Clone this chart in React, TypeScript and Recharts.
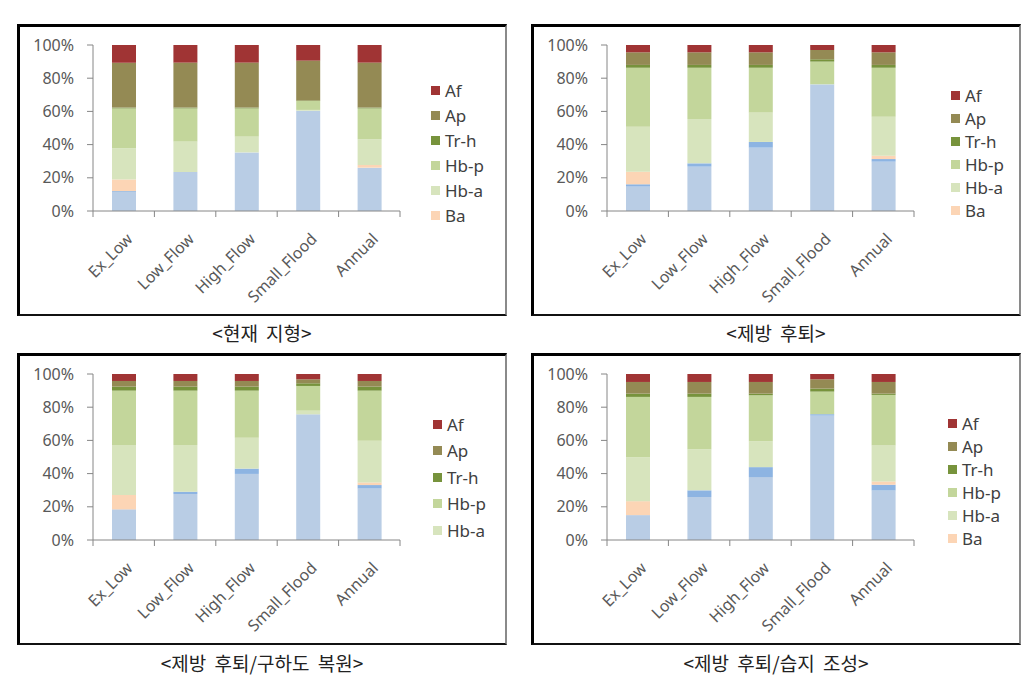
import React from 'react';
import { BarChart, Bar, XAxis, YAxis } from 'recharts';

const categories = ['Ex_Low', 'Low_Flow', 'High_Flow', 'Small_Flood', 'Annual'];
const yTicks = [0, 20, 40, 60, 80, 100];

// Panel 1: 현재 지형
const p1W = [11.5, 23.5, 35.3, 60.4, 26.1];
const p1B = [0.5, 0, 0, 0, 0];
const p1Ba = [7, 0, 0, 0, 1.6];
const p1Hba = [18.8, 18.3, 9.5, 0.5, 15.5];
const p1Hbp = [24, 20, 17, 5.4, 18.6];
const p1Trh = [0.5, 0.5, 0.5, 0.3, 0.5];
const p1Ap = [27, 27.1, 27.1, 24, 27.1];
const p1Af = [10.7, 10.6, 10.6, 9.4, 10.6];

// Panel 2: 제방 후퇴
const p2W = [14.7, 26.7, 38.2, 75.9, 29.7];
const p2B = [1.4, 2, 3.4, 0.3, 1.6];
const p2Ba = [7.6, 0, 0, 0, 2];
const p2Hba = [27.1, 26.7, 17.8, 0.3, 23.5];
const p2Hbp = [35.5, 30.9, 26.9, 13.5, 29.5];
const p2Trh = [1.7, 1.7, 1.7, 1.4, 1.7];
const p2Ap = [7.6, 7.6, 7.6, 5.6, 7.6];
const p2Af = [4.4, 4.4, 4.4, 3, 4.4];

// Panel 3: 제방 후퇴/구하도 복원
const p3W = [18.1, 27.7, 39.8, 75.7, 31.1];
const p3B = [0.3, 1.4, 3.2, 0, 2];
const p3Ba = [8.7, 0, 0, 0, 1.6];
const p3Hba = [30.1, 28.1, 18.6, 2.2, 25.1];
const p3Hbp = [32.8, 32.8, 28.4, 14.9, 30.2];
const p3Trh = [2.4, 2.4, 2.4, 1.6, 2.4];
const p3Ap = [3.4, 3.4, 3.4, 2.4, 3.4];
const p3Af = [4.2, 4.2, 4.2, 3.2, 4.2];

// Panel 4: 제방 후퇴/습지 조성
const p4W = [15, 25.9, 37.9, 74.9, 29.9];
const p4B = [0, 4, 6, 0.9, 3.4];
const p4Ba = [8.4, 0, 0, 0, 2];
const p4Hba = [26.5, 24.8, 15.6, 0, 21.6];
const p4Hbp = [36.3, 31.5, 27.7, 13.6, 30.5];
const p4Trh = [2, 2, 1, 1.8, 0.8];
const p4Ap = [7, 7, 7, 5.6, 7];
const p4Af = [4.8, 4.8, 4.8, 3.2, 4.8];

const legendFull = ['Af', 'Ap', 'Tr-h', 'Hb-p', 'Hb-a', 'Ba'];
const legendShort = ['Af', 'Ap', 'Tr-h', 'Hb-p', 'Hb-a'];

const SERIES = [
  { key: 'W', color: '#b9cde5' },
  { key: 'B', color: '#8db4e2' },
  { key: 'Ba', color: '#fcd5b5' },
  { key: 'Hb-a', color: '#d7e4bd' },
  { key: 'Hb-p', color: '#c3d69b' },
  { key: 'Tr-h', color: '#77933c' },
  { key: 'Ap', color: '#948a54' },
  { key: 'Af', color: '#a03434' },
];
const colorOf: Record<string, string> = Object.fromEntries(SERIES.map((s) => [s.key, s.color]));

function build(w: number[], b: number[], ba: number[], hba: number[], hbp: number[], trh: number[], ap: number[], af: number[]) {
  return categories.map((c, i) => ({
    name: c,
    W: w[i],
    B: b[i],
    Ba: ba[i],
    'Hb-a': hba[i],
    'Hb-p': hbp[i],
    'Tr-h': trh[i],
    Ap: ap[i],
    Af: af[i],
  }));
}

const PANEL_W = 490;
const PANEL_H = 292;
const M_TOP = 21;
const Y_W = 76;
const M_RIGHT = 107;
const PLOT_W = PANEL_W - Y_W - M_RIGHT;
const PLOT_H = 166;
const BAND = PLOT_W / categories.length;
const AXIS_COLOR = '#868686';
const FONT = '"Noto Sans", "Noto Sans CJK KR", sans-serif';

const XTick = (props: any) => {
  const { x, y, payload, index } = props;
  const tx = x + 10;
  const ty = y + 29;
  return (
    <g>
      <line x1={x - BAND / 2} x2={x - BAND / 2} y1={y} y2={y + 6} stroke={AXIS_COLOR} />
      {index === categories.length - 1 && (
        <line x1={x + BAND / 2} x2={x + BAND / 2} y1={y} y2={y + 6} stroke={AXIS_COLOR} />
      )}
      <text
        x={tx}
        y={ty}
        transform={`rotate(-45, ${tx}, ${ty})`}
        textAnchor="end"
        fontSize={16}
        fill="#595959"
        fontFamily={FONT}
      >
        {payload.value}
      </text>
    </g>
  );
};

type PanelProps = {
  left: number;
  top: number;
  data: any[];
  caption: string;
  captionTop: number;
  legendItems: string[];
  legendLeft: number;
  legendTop: number;
  legendRow: number;
};

const Panel = ({ left, top, data, caption, captionTop, legendItems, legendLeft, legendTop, legendRow }: PanelProps) => {
  return (
    <>
      <div
        style={{
          position: 'absolute',
          left,
          top,
          width: PANEL_W,
          height: PANEL_H,
          boxSizing: 'border-box',
          borderLeft: '3px solid #000',
          borderTop: '3px solid #000',
          borderBottom: '2px solid #111',
          borderRight: '2px solid #8a8a8a',
          background: '#fff',
        }}
      />
      <div style={{ position: 'absolute', left, top }}>
        <BarChart
          width={PANEL_W}
          height={PANEL_H}
          data={data}
          margin={{ top: M_TOP, right: M_RIGHT, left: 0, bottom: 0 }}
          barSize={24}
        >
          <XAxis
            dataKey="name"
            height={PANEL_H - M_TOP - PLOT_H}
            axisLine={{ stroke: AXIS_COLOR }}
            tickLine={false}
            tickSize={0}
            tickMargin={0}
            interval={0}
            tick={<XTick />}
          />
          <YAxis
            width={Y_W}
            domain={[0, 100]}
            ticks={yTicks}
            allowDataOverflow
            axisLine={{ stroke: AXIS_COLOR }}
            tickLine={{ stroke: AXIS_COLOR }}
            tickSize={6}
            tickMargin={13}
            tickFormatter={(v: number) => `${v}%`}
            tick={{ fontSize: 16, fill: '#595959', fontFamily: FONT }}
          />
          {SERIES.map((s) => (
            <Bar key={s.key} dataKey={s.key} stackId="a" fill={s.color} isAnimationActive={false} />
          ))}
        </BarChart>
      </div>
      <div style={{ position: 'absolute', left: left + legendLeft, top: top + legendTop, fontFamily: FONT }}>
        {legendItems.map((name) => (
          <div key={name} style={{ display: 'flex', alignItems: 'center', height: legendRow }}>
            <span
              style={{ width: 9, height: 9, background: colorOf[name], display: 'inline-block', marginRight: 5 }}
            />
            <span style={{ fontSize: 17, color: '#404040', lineHeight: 1 }}>{name}</span>
          </div>
        ))}
      </div>
      <div
        style={{
          position: 'absolute',
          left,
          top: captionTop,
          width: PANEL_W,
          textAlign: 'center',
          fontSize: 19,
          color: '#222',
          fontFamily: '"Noto Sans CJK KR", sans-serif',
          lineHeight: '20px',
          wordSpacing: 4,
        }}
      >
        {caption}
      </div>
    </>
  );
};

export default function App() {
  return (
    <div style={{ position: 'absolute', left: 0, top: 0, width: 1033, height: 682, background: '#fff' }}>
      <Panel
        left={17}
        top={24}
        data={build(p1W, p1B, p1Ba, p1Hba, p1Hbp, p1Trh, p1Ap, p1Af)}
        caption="<현재 지형>"
        captionTop={323}
        legendItems={legendFull}
        legendLeft={414}
        legendTop={54}
        legendRow={25}
      />
      <Panel
        left={531}
        top={24}
        data={build(p2W, p2B, p2Ba, p2Hba, p2Hbp, p2Trh, p2Ap, p2Af)}
        caption="<제방 후퇴>"
        captionTop={323}
        legendItems={legendFull}
        legendLeft={420}
        legendTop={60}
        legendRow={23}
      />
      <Panel
        left={17}
        top={353}
        data={build(p3W, p3B, p3Ba, p3Hba, p3Hbp, p3Trh, p3Ap, p3Af)}
        caption="<제방 후퇴/구하도 복원>"
        captionTop={653}
        legendItems={legendShort}
        legendLeft={416}
        legendTop={58}
        legendRow={26.5}
      />
      <Panel
        left={531}
        top={353}
        data={build(p4W, p4B, p4Ba, p4Hba, p4Hbp, p4Trh, p4Ap, p4Af)}
        caption="<제방 후퇴/습지 조성>"
        captionTop={653}
        legendItems={legendFull}
        legendLeft={417}
        legendTop={59}
        legendRow={23}
      />
    </div>
  );
}
